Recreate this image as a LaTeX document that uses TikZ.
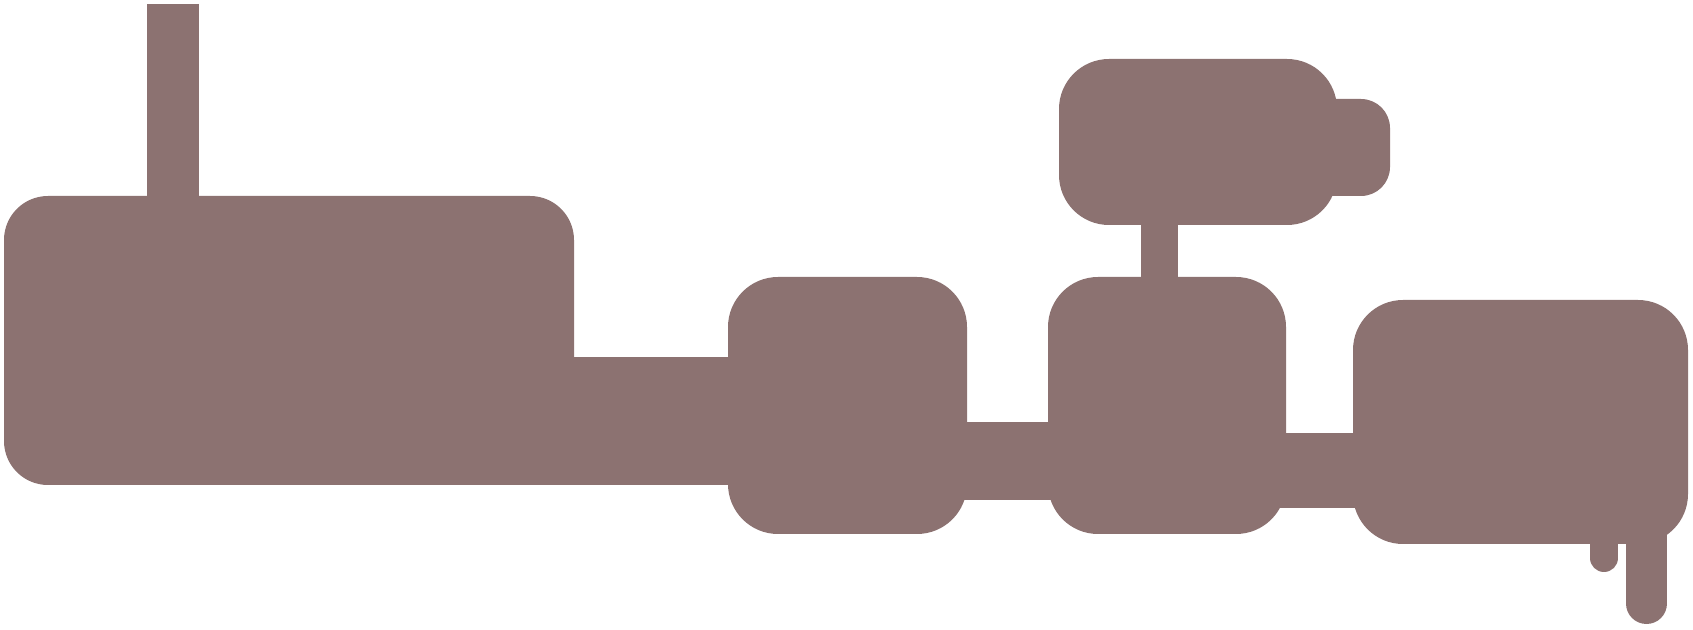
\documentclass[tikz,border=0pt]{standalone}
\usetikzlibrary{positioning,calc}
\definecolor{plumgrey}{HTML}{8C7271}
\begin{document}
\begin{tikzpicture}[x=0.5pt,y=-0.5pt]

% ---- Styles (one flat fill) ----
\tikzset{
  unitbox/.style={rectangle, rounded corners=25pt, fill=plumgrey, draw=none,
                  inner sep=0pt, outer sep=0pt, anchor=north west},
  tabbox/.style={rectangle, rounded corners=14.5pt, fill=plumgrey, draw=none,
                 inner sep=0pt, outer sep=0pt, anchor=east,
                 minimum width=50pt, minimum height=48.5pt},
  link/.style={fill=plumgrey},
  stem/.style={draw=plumgrey, line cap=butt},
  leg/.style={draw=plumgrey, line cap=round},
}

\useasboundingbox (0,0) rectangle (1693,630);

% --- Boxes ---
\node[unitbox, rounded corners=22pt, minimum width=285pt, minimum height=144.5pt] (box1) at (4,196) {};
\node[unitbox, minimum width=119.5pt, minimum height=128.5pt] (box2) at (728,277) {};
\node[unitbox, minimum width=119pt, minimum height=128.5pt] (box3) at (1048,277) {};
\node[unitbox, minimum width=167.5pt, minimum height=122pt] (box4) at (1353,300) {};
\node[tabbox] (tab) at (1390,147.5) {};
\node[unitbox, minimum width=139pt, minimum height=83pt] (boxT) at (1059,59) {};

% --- Mast on the first box ---
\coordinate (masttop) at (173,4);
\draw[stem, line width=26pt, shorten >=-1pt] (masttop) -- (masttop |- box1.north);

% --- Stem from top box down ---
\draw[stem, line width=18.5pt, shorten <=-1pt, shorten >=-1pt]
  ([xshift=-3.75pt]box3.north |- boxT.south) -- ([xshift=-3.75pt]box3.north);

% --- Links between the boxes (tucked under the corners) ---
\fill[link] ([xshift=-25pt,yshift=-8.25pt]box1.east) rectangle ([xshift=20pt,yshift=-39.75pt]box2.west);
\fill[link] ([xshift=-20pt,yshift=-8.25pt]box2.east) rectangle ([xshift=20pt,yshift=-47.25pt]box3.west);
\fill[link] ([xshift=-20pt,yshift=-13.75pt]box3.east) rectangle ([xshift=20pt,yshift=-43pt]box4.west);

% --- Legs under the last box ---
\draw[leg, line width=20.5pt] ([xshift=-20.75pt,yshift=15pt]box4.south east) -- ([xshift=-20.75pt,yshift=-29.75pt]box4.south east);
\draw[leg, line width=14pt] ([xshift=-42pt,yshift=10pt]box4.south east) -- ([xshift=-42pt,yshift=-7pt]box4.south east);

\end{tikzpicture}
\end{document}
